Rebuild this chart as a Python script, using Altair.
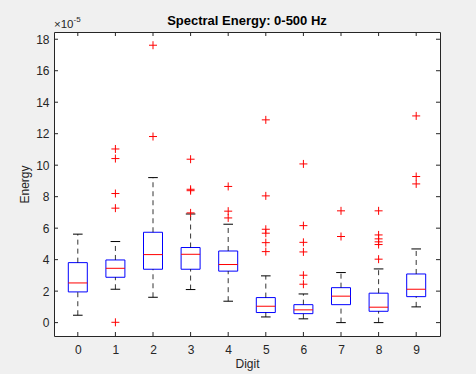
import altair as alt
import pandas as pd

# ---- data (units of 1e-5) ----
digits = [0, 1, 2, 3, 4, 5, 6, 7, 8, 9]
whisk_lo = [0.47, 2.12, 1.61, 2.10, 1.36, 0.36, 0.24, 0.00, 0.00, 1.00]
q1 = [1.95, 2.88, 3.39, 3.39, 3.27, 0.64, 0.57, 1.14, 0.72, 1.65]
med = [2.52, 3.45, 4.32, 4.34, 3.69, 1.04, 0.81, 1.68, 0.98, 2.12]
q3 = [3.81, 3.98, 5.74, 4.77, 4.55, 1.59, 1.14, 2.22, 1.87, 3.09]
whisk_hi = [5.62, 5.15, 9.21, 6.90, 6.25, 2.97, 1.82, 3.18, 3.41, 4.68]

outliers = {
    1: [0.02, 7.27, 8.20, 10.42, 11.03],
    2: [11.82, 17.62],
    3: [6.97, 8.38, 8.47, 10.38],
    4: [6.65, 7.08, 8.65],
    5: [4.51, 5.08, 5.68, 5.93, 8.05, 12.88],
    6: [2.44, 3.01, 4.49, 5.10, 6.16, 10.08],
    7: [5.47, 7.10],
    8: [4.03, 4.96, 5.13, 5.32, 5.57, 7.10],
    9: [8.81, 9.28, 13.13],
}

y_ticks = [0, 2, 4, 6, 8, 10, 12, 14, 16, 18]
title_text = "Spectral Energy: 0-500 Hz"

stats = pd.DataFrame({"digit": digits, "lo": whisk_lo, "q1": q1, "med": med,
                      "q3": q3, "hi": whisk_hi})
out_df = pd.DataFrame([{"digit": d, "v": v} for d, vs in outliers.items() for v in vs])
yt_df = pd.DataFrame({"t": y_ticks})
xt_df = pd.DataFrame({"d": digits})

W, H = 386, 304
FONT = "Liberation Sans"
TXT = "#262626"
FS = 12

xs = alt.Scale(domain=[-0.5, 9.5], nice=False, zero=False)
ys = alt.Scale(domain=[-0.85, 18.46], nice=False, zero=False)

XAX = alt.Axis(title="Digit", values=digits, tickSize=0, domain=False,
               grid=False, labelPadding=8, titlePadding=3, labelOverlap=False,
               labelFontSize=FS, titleFontSize=FS, labelFont=FONT,
               titleFont=FONT, labelColor=TXT, titleColor=TXT,
               titleFontWeight="normal")
YAX = alt.Axis(title="Energy", values=y_ticks, tickSize=0, domain=False,
               grid=False, labelPadding=5, titlePadding=4, labelOverlap=False,
               labelFontSize=FS, titleFontSize=FS, labelFont=FONT,
               titleFont=FONT, labelColor=TXT, titleColor=TXT,
               titleFontWeight="normal")


def xq(field):
    return alt.X(field, scale=xs, axis=XAX)


def yq(field):
    return alt.Y(field, scale=ys, axis=YAX)


base = alt.Chart(stats)

whisk_up = base.mark_rule(color="#000000", strokeWidth=0.8, strokeDash=[5, 4]).encode(
    x=xq("digit:Q"), y=yq("q3:Q"), y2="hi:Q")
whisk_dn = base.mark_rule(color="#000000", strokeWidth=0.8, strokeDash=[5, 4]).encode(
    x=xq("digit:Q"), y=yq("lo:Q"), y2="q1:Q")
cap_hi = base.mark_rule(color="#000000", strokeWidth=1, xOffset=-4.8, x2Offset=4.8).encode(
    x=xq("digit:Q"), x2="digit:Q", y=yq("hi:Q"))
cap_lo = base.mark_rule(color="#000000", strokeWidth=1, xOffset=-4.8, x2Offset=4.8).encode(
    x=xq("digit:Q"), x2="digit:Q", y=yq("lo:Q"))
box = base.mark_bar(size=19, fillOpacity=0, stroke="#0000ff", strokeWidth=1).encode(
    x=xq("digit:Q"), y=yq("q1:Q"), y2="q3:Q")
median = base.mark_rule(color="#ff0000", strokeWidth=1, xOffset=-9.5, x2Offset=9.5).encode(
    x=xq("digit:Q"), x2="digit:Q", y=yq("med:Q"))

pts = alt.Chart(out_df).mark_point(shape="M-1,0H1M0,-1V1", size=64, filled=False,
                                   color="#ff0000", strokeWidth=1, opacity=1).encode(
    x=xq("digit:Q"), y=yq("v:Q"))

# inward ticks on all four sides
ytl = alt.Chart(yt_df).mark_rule(color=TXT, strokeWidth=1).encode(
    y=yq("t:Q"), x=alt.value(0), x2=alt.value(4))
ytr = alt.Chart(yt_df).mark_rule(color=TXT, strokeWidth=1).encode(
    y=yq("t:Q"), x=alt.value(W - 4), x2=alt.value(W))
xtb = alt.Chart(xt_df).mark_rule(color=TXT, strokeWidth=1).encode(
    x=xq("d:Q"), y=alt.value(H), y2=alt.value(H - 4))
xtt = alt.Chart(xt_df).mark_rule(color=TXT, strokeWidth=1).encode(
    x=xq("d:Q"), y=alt.value(0), y2=alt.value(4))

exp_base = alt.Chart(pd.DataFrame({"s": ["×10"]})).mark_text(
    align="left", baseline="alphabetic", fontSize=11.5, font=FONT, color=TXT).encode(
    text="s:N", x=alt.value(0), y=alt.value(-4))
exp_sup = alt.Chart(pd.DataFrame({"s": ["-5"]})).mark_text(
    align="left", baseline="alphabetic", fontSize=8, font=FONT, color=TXT).encode(
    text="s:N", x=alt.value(19.5), y=alt.value(-10))
title = alt.Chart(pd.DataFrame({"s": [title_text]})).mark_text(
    align="center", baseline="alphabetic", fontSize=13, fontWeight="bold",
    font=FONT, color="#000000").encode(
    text="s:N", x=alt.value(W / 2), y=alt.value(-7))

chart = alt.layer(box, whisk_up, whisk_dn, cap_hi, cap_lo, median, pts,
                  ytl, ytr, xtb, xtt, exp_base, exp_sup, title).properties(
    width=W, height=H,
    autosize="none",
    padding={"left": 54, "top": 32, "right": 36, "bottom": 38},
).configure(background="#f0f0f0").configure_view(
    fill="#ffffff", stroke=TXT, strokeWidth=1
).configure_axis(labelOverlap=False)

chart.save("out.html", embed_options={"renderer": "svg", "actions": False})
